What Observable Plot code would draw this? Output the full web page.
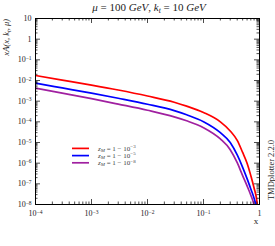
<!DOCTYPE html>
<html><head><meta charset="utf-8">
<script src="https://cdn.jsdelivr.net/npm/d3@7"></script>
<script src="https://cdn.jsdelivr.net/npm/@observablehq/plot@0.6"></script>
<style>body{margin:0;background:#fff}#chart svg{display:block}</style>
</head><body><div id="chart"></div>
<script>
// ---- data ----
const xValues = [1e-4, 3e-4, 1e-3, 3e-3, 1e-2, 3e-2, 0.05, 0.1, 0.2, 0.3, 0.4, 0.5, 0.6, 0.7, 0.8, 0.9, 0.95];
const zM3 = [1.74e-2, 1.05e-2, 6.0e-3, 3.47e-3, 1.78e-3, 8.9e-4, 5.75e-4, 2.82e-4, 1.0e-4, 3.63e-5, 1.26e-5, 3.3e-6, 1.0e-6, 2.5e-7, 6.3e-8, 1.4e-8, 3.2e-9];
const zM5 = [7.4e-3, 4.37e-3, 2.45e-3, 1.38e-3, 7.1e-4, 3.47e-4, 2.19e-4, 1.02e-4, 3.0e-5, 1.0e-5, 2.5e-6, 6.3e-7, 1.78e-7, 5.6e-8, 2.0e-8, 5e-9, 1e-9];
const zM8 = [4.27e-3, 2.45e-3, 1.32e-3, 7.2e-4, 3.63e-4, 1.74e-4, 1.12e-4, 5.2e-5, 1.48e-5, 4.5e-6, 1.05e-6, 2.5e-7, 7.9e-8, 2.8e-8, 8.9e-9, 1e-9, 3.2e-10];
const seriesKeys = ["-3", "-5", "-8"];
const seriesColors = ["#ff0000", "#0000ff", "#a020a0"];
const xMajorTicks = [1e-4, 1e-3, 1e-2, 1e-1, 1];
const yMajorTicks = [1e-8, 1e-7, 1e-6, 1e-5, 1e-4, 1e-3, 1e-2, 1e-1, 1, 10];
const titleText = ["μ", " = 100 ", "GeV", ", ", "k", "t", " = 10 ", "GeV"];
const yLabelText = "xA(x, k";
const watermark = "TMDplotter 2.2.0";

// ---- build tables ----
const rows = [];
[zM3, zM5, zM8].forEach((vals, i) => vals.forEach((v, j) => rows.push({x: xValues[j], y: v, s: seriesKeys[i]})));
const minorOf = (majors) => {
  const out = [];
  for (let k = 0; k < majors.length - 1; k++) for (let m = 2; m <= 9; m++) out.push(m * majors[k]);
  return out;
};
const xMinorTicks = minorOf(xMajorTicks);
const yMinorTicks = minorOf(yMajorTicks);
const powLabel = d => {
  const e = Math.round(Math.log10(d));
  if (e === 0) return "1";
  if (e === 1) return "10";
  return "10^" + e;
};

const W = 275, H = 246, mL = 35, mR = 16, mT = 18, mB = 42;
const fw = W - mL - mR, fh = H - mT - mB;
const majLen = 5, minLen = 2.5;
const font = "Liberation Serif";

const chart = Plot.plot({
  width: W, height: H,
  marginLeft: mL, marginRight: mR, marginTop: mT, marginBottom: mB,
  style: {fontFamily: font, fontSize: "8px", background: "#fff", color: "#222"},
  x: {type: "log", domain: [1e-4, 1]},
  y: {type: "log", domain: [1e-8, 10]},
  color: {domain: seriesKeys, range: seriesColors},
  marks: [
    Plot.line(rows, {x: "x", y: "y", z: "s", stroke: "s", strokeWidth: 1.7, curve: "monotone-x", clip: true}),
    // bottom & top ticks
    Plot.tickX(xMajorTicks, {x: d => d, insetTop: fh - majLen, stroke: "#000", strokeWidth: 0.7}),
    Plot.tickX(xMinorTicks, {x: d => d, insetTop: fh - minLen, stroke: "#000", strokeWidth: 0.7}),
    Plot.tickX(xMajorTicks, {x: d => d, insetBottom: fh - majLen, stroke: "#000", strokeWidth: 0.7}),
    Plot.tickX(xMinorTicks, {x: d => d, insetBottom: fh - minLen, stroke: "#000", strokeWidth: 0.7}),
    // left & right ticks
    Plot.tickY(yMajorTicks, {y: d => d, insetRight: fw - majLen, stroke: "#000", strokeWidth: 0.7}),
    Plot.tickY(yMinorTicks, {y: d => d, insetRight: fw - minLen, stroke: "#000", strokeWidth: 0.7}),
    Plot.tickY(yMajorTicks, {y: d => d, insetLeft: fw - majLen, stroke: "#000", strokeWidth: 0.7}),
    Plot.tickY(yMinorTicks, {y: d => d, insetLeft: fw - minLen, stroke: "#000", strokeWidth: 0.7}),
    Plot.frame({stroke: "#000", strokeWidth: 1}),
    Plot.axisX({ticks: xMajorTicks, tickSize: 0, tickPadding: 6, tickFormat: powLabel, label: null}),
    Plot.axisY({ticks: yMajorTicks, tickSize: 0, tickPadding: 4, tickFormat: powLabel, label: null})
  ]
});
document.getElementById("chart").appendChild(chart);

const svg = d3.select(chart);
// superscripts in tick labels
svg.selectAll('g[aria-label="x-axis tick label"] text, g[aria-label="y-axis tick label"] text').each(function () {
  const t = d3.select(this);
  const s = t.text();
  if (s.includes("^")) {
    const [base, exp] = s.split("^");
    t.text(base);
    t.append("tspan").attr("dy", "-0.45em").attr("font-size", "5.5px").text(exp.replace("-", "−"));
  }
});

const add = svg.append("g").attr("font-family", font).attr("fill", "#222");
// title
const title = add.append("text").attr("x", 149).attr("y", 10.5).attr("text-anchor", "middle").attr("font-size", "11px");
titleText.forEach((p, i) => {
  const ts = title.append("tspan").text(p);
  if (i === 0 || i === 2 || i === 4 || i === 7) ts.attr("font-style", "italic");
  if (i === 5) ts.attr("font-style", "italic").attr("font-size", "7.5px").attr("dy", "2");
  if (i === 6) ts.attr("dy", "-2");
});
// y label
const yl = add.append("text").attr("transform", "translate(9,19) rotate(-90)").attr("text-anchor", "end").attr("font-size", "8.5px").attr("font-style", "italic");
yl.append("tspan").text(yLabelText);
yl.append("tspan").attr("font-size", "6px").attr("dy", "1.5").text("t");
yl.append("tspan").attr("dy", "-1.5").text(", μ)");
// x label
add.append("text").attr("x", 256).attr("y", 224).attr("text-anchor", "middle").attr("font-size", "9px").text("x");
// watermark
add.append("text").attr("transform", "translate(274,170) rotate(-90)").attr("text-anchor", "middle").attr("font-size", "8.5px").text(watermark);
// legend
const legend = add.append("g");
seriesKeys.forEach((k, i) => {
  const y = 148.4 + i * 7.2;
  legend.append("line").attr("x1", 72).attr("x2", 89).attr("y1", y).attr("y2", y).attr("stroke", seriesColors[i]).attr("stroke-width", 1.7);
  const t = legend.append("text").attr("x", 98).attr("y", y + 2.4).attr("text-anchor", "start").attr("font-size", "7px").attr("fill", "#444");
  t.append("tspan").attr("font-style", "italic").text("z");
  t.append("tspan").attr("font-style", "italic").attr("font-size", "5px").attr("dy", "1.1").text("M");
  t.append("tspan").attr("dy", "-1.1").text(" = 1 − 10");
  t.append("tspan").attr("font-size", "5px").attr("dy", "-2.6").text(k.replace("-", "−"));
});
</script>
</body></html>
